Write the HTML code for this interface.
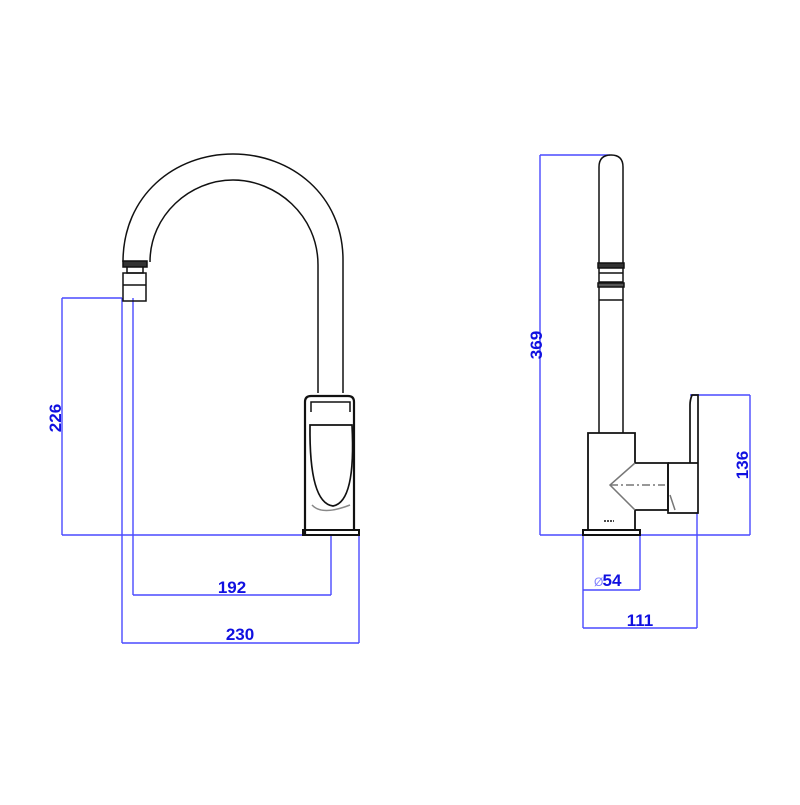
<!DOCTYPE html>
<html><head><style>html,body{margin:0;padding:0;background:#fff}</style></head>
<body>
<svg width="800" height="800" viewBox="0 0 800 800" xmlns="http://www.w3.org/2000/svg">
<g fill="none" stroke="#4a4aff" stroke-width="1.4">
<path d="M62 298H122M62 298V535M62 535H360M122 298V643M133 298V595M331 535V595M359 535V643M133 595H331M122 643H359"/>
<path d="M540 155H610M540 155V535M540 535H750M690 395H750M750 395V535M583 535V628M640 535V590M697 513V628M583 590H640M583 628H697"/>
</g>
<g font-family="Liberation Sans, sans-serif" font-weight="bold" font-size="17" fill="#1010e0" text-anchor="middle">
<text transform="translate(61,418) rotate(-90)">226</text>
<text x="232" y="593">192</text>
<text x="240" y="640">230</text>
<text transform="translate(542,345) rotate(-90)">369</text>
<text transform="translate(748,465) rotate(-90)">136</text>
<text x="612" y="586">54</text>
<text x="640" y="626">111</text>
</g>
<text x="594" y="586" font-family="Liberation Sans, sans-serif" font-size="12" fill="#8080ff">Ø</text>
<g fill="none" stroke="#111" stroke-width="1.5">
<path d="M123 262C123 195 175 154 233 154C291 154 343 195 343 260V393"/>
<path d="M150 262C150 215 190 180 233 180C276 180 318 215 318 265V393"/>
<rect x="123" y="261" width="24" height="6" fill="#333"/>
<path d="M127 267V273H143V267"/>
<path d="M123 273H146V301H123Z"/>
<path d="M123 285H146"/>
<path d="M305 535V402Q305 396 311 396H348Q354 396 354 402V530" stroke-width="2.2"/>
<path d="M311 412V402H350V412"/>
<path d="M310 425Q309 503 333 506Q356 502 352 425Z" stroke-width="1.7"/>
<path d="M312 505Q322 516 350 505" stroke="#888"/>
<rect x="303" y="530" width="56" height="5" stroke-width="2"/>
<path d="M599 433V167Q599 155 611 155Q623 155 623 167V433"/>
<rect x="598" y="263" width="26" height="5" fill="#333"/>
<path d="M599 273H623M599 282H623M599 300H623"/>
<rect x="598" y="283" width="26" height="4" fill="#555"/>
<path d="M588 530V433H635V463H668V510H635V530" stroke-width="1.8"/>
<path d="M635 463L610 485L635 510" stroke="#777"/>
<path d="M610 485H665" stroke="#777" stroke-dasharray="8 3 2 3"/>
<path d="M668 463H698M668 510V513H698V395H692Q690 400 690 405V463M668 463V510" stroke-width="1.7"/>
<path d="M670 495L675 510" stroke="#777"/>
<rect x="583" y="530" width="57" height="5" stroke-width="2"/>
<path d="M604 521H614" stroke-dasharray="2 1"/>
</g>
</svg>
</body></html>
